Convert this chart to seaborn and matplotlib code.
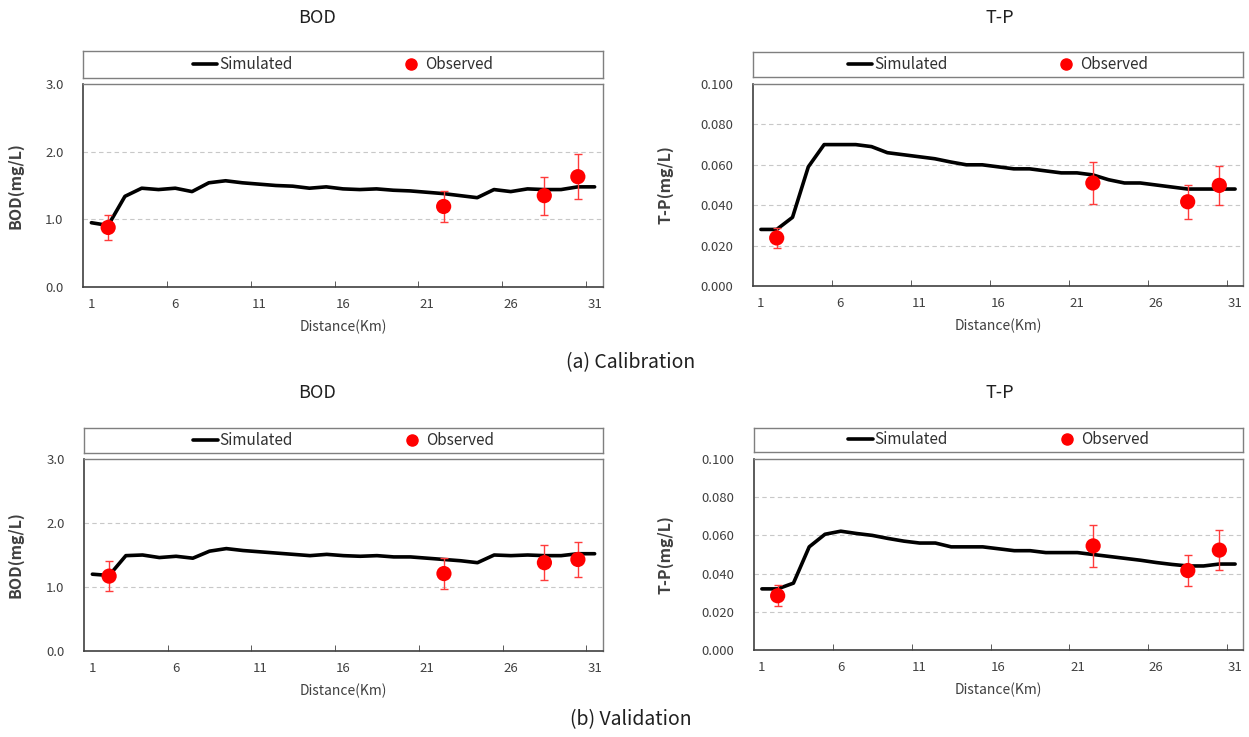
import matplotlib
matplotlib.use("Agg")
import matplotlib.pyplot as plt
import seaborn as sns
import numpy as np
import pandas as pd
from matplotlib.lines import Line2D

# distance along the river (km)
distance = list(range(1, 32))
obs_distance = [2, 22, 28, 30]

# calibration, simulated
bod_cal_sim = [0.95, 0.91, 1.34, 1.46, 1.44, 1.46, 1.41, 1.54, 1.57, 1.54, 1.52,
               1.50, 1.49, 1.46, 1.48, 1.45, 1.44, 1.45, 1.43, 1.42, 1.40, 1.38,
               1.35, 1.32, 1.44, 1.41, 1.45, 1.44, 1.44, 1.48, 1.48]
tp_cal_sim = [0.028, 0.028, 0.034, 0.059, 0.070, 0.070, 0.070, 0.069, 0.066, 0.065, 0.064,
              0.063, 0.0614, 0.060, 0.060, 0.059, 0.058, 0.058, 0.057, 0.056, 0.056, 0.055,
              0.0526, 0.051, 0.051, 0.050, 0.049, 0.048, 0.048, 0.048, 0.048]
# calibration, observed
bod_cal_obs = [0.88, 1.19, 1.35, 1.63]
bod_cal_err = [0.18, 0.23, 0.28, 0.33]
tp_cal_obs = [0.0238, 0.051, 0.0417, 0.0498]
tp_cal_err = [0.005, 0.0102, 0.0083, 0.0097]

# validation, simulated
bod_val_sim = [1.20, 1.18, 1.49, 1.50, 1.46, 1.48, 1.45, 1.56, 1.60, 1.57, 1.55,
               1.53, 1.51, 1.49, 1.51, 1.49, 1.48, 1.49, 1.47, 1.47, 1.45, 1.43,
               1.41, 1.38, 1.50, 1.49, 1.50, 1.49, 1.49, 1.52, 1.52]
tp_val_sim = [0.032, 0.032, 0.035, 0.054, 0.0606, 0.0622, 0.061, 0.060, 0.0584, 0.057, 0.056,
              0.056, 0.054, 0.054, 0.054, 0.053, 0.052, 0.052, 0.051, 0.051, 0.051, 0.050,
              0.049, 0.048, 0.047, 0.0458, 0.0448, 0.044, 0.044, 0.045, 0.045]
# validation, observed
bod_val_obs = [1.17, 1.21, 1.38, 1.43]
bod_val_err = [0.23, 0.24, 0.27, 0.28]
tp_val_obs = [0.0284, 0.0545, 0.0416, 0.0523]
tp_val_err = [0.0055, 0.0108, 0.0082, 0.0103]

sns.set_style("white")
plt.rcParams['font.family'] = ['Noto Sans CJK KR', 'DejaVu Sans']

W, H = 1249, 737
fig = plt.figure(figsize=(W / 100, H / 100), dpi=100)


def rect(x0, y0, x1, y1):
    return [x0 / W, 1 - y1 / H, (x1 - x0) / W, (y1 - y0) / H]


def draw_panel(ax_box, leg_box, sim, obs, err, ymax, ystep, fmt, ylabel, title, title_x, ylabel_x):
    ax = fig.add_axes(rect(*ax_box))
    sim_df = pd.DataFrame({"Distance": distance, "value": sim})
    obs_df = pd.DataFrame({"Distance": obs_distance, "value": obs})
    sns.lineplot(data=sim_df, x="Distance", y="value", color="black", lw=2.6, ax=ax)
    ax.errorbar(obs_distance, obs, yerr=err, fmt="none", ecolor="#ff3b3b",
                elinewidth=1, capsize=3, capthick=1, zorder=3)
    sns.scatterplot(data=obs_df, x="Distance", y="value", color="#ff0000", s=120,
                    edgecolor="none", ax=ax, zorder=4)
    ax.set_xlim(0.5, 31.5)
    ax.set_ylim(0, ymax)
    ax.set_xticks([1, 6, 11, 16, 21, 26, 31])
    ax.set_xticks([5.5, 10.5, 15.5, 20.5, 25.5, 30.5], minor=True)
    ax.tick_params(axis="x", which="major", length=0, pad=8, labelsize=9.5, labelcolor="#404040")
    ax.tick_params(axis="x", which="minor", direction="in", length=4, color="#404040", bottom=True)
    yt = np.arange(0, ymax + ystep / 2, ystep)
    ax.set_yticks(yt)
    ax.set_yticklabels([fmt.format(v) for v in yt])
    ax.tick_params(axis="y", length=0, pad=14, labelsize=9.5, labelcolor="#404040")
    for v in yt[1:-1]:
        ax.axhline(v, color="#c8c8c8", lw=0.8, ls=(0, (4, 3)), zorder=0)
    for s in ["top", "right"]:
        ax.spines[s].set_color("#7f7f7f")
        ax.spines[s].set_linewidth(1)
    for s in ["left", "bottom"]:
        ax.spines[s].set_color("#404040")
        ax.spines[s].set_linewidth(1.2)
    ax.set_xlabel("")
    ax.set_ylabel("")
    cy = (ax_box[1] + ax_box[3]) / 2
    fig.text(ylabel_x / W, 1 - cy / H, ylabel, rotation=90, ha="center", va="center",
             fontsize=11.5, fontweight="bold", color="#404040")
    cx = (ax_box[0] + ax_box[2]) / 2
    fig.text(cx / W, 1 - (ax_box[3] + 40) / H, "Distance(Km)", ha="center", va="center",
             fontsize=10, color="#404040")
    fig.text(title_x / W, 1 - (ax_box[1] - 66) / H, title, ha="center", va="center",
             fontsize=13, color="#202020")

    lax = fig.add_axes(rect(*leg_box))
    lax.set_xticks([])
    lax.set_yticks([])
    for s in lax.spines.values():
        s.set_color("#7f7f7f")
        s.set_linewidth(1)
    handles = [Line2D([], [], color="black", lw=2.6),
               Line2D([], [], color="#ff0000", marker="o", ls="none", markersize=8)]
    lax.legend(handles, ["Simulated", "Observed"], loc="center", ncol=2, frameon=False,
               fontsize=11, handlelength=1.6, handletextpad=0.1, columnspacing=7.0,
               labelcolor="#303030", borderaxespad=0)
    return ax


draw_panel((83, 84, 603, 287), (83, 51, 603, 78), bod_cal_sim, bod_cal_obs, bod_cal_err,
           3.0, 1.0, "{:.1f}", "BOD(mg/L)", "BOD", 317, 15)
draw_panel((753, 84, 1243, 286), (753, 52, 1243, 77), tp_cal_sim, tp_cal_obs, tp_cal_err,
           0.1, 0.02, "{:.3f}", "T-P(mg/L)", "T-P", 1000, 665)
draw_panel((84, 459, 603, 651), (84, 428, 603, 453), bod_val_sim, bod_val_obs, bod_val_err,
           3.0, 1.0, "{:.1f}", "BOD(mg/L)", "BOD", 317, 15)
draw_panel((754, 459, 1243, 650), (754, 428, 1243, 452), tp_val_sim, tp_val_obs, tp_val_err,
           0.1, 0.02, "{:.3f}", "T-P(mg/L)", "T-P", 1000, 665)

fig.text(631 / W, 1 - 363 / H, "(a) Calibration", ha="center", va="center", fontsize=14, color="#202020")
fig.text(631 / W, 1 - 720 / H, "(b) Validation", ha="center", va="center", fontsize=14, color="#202020")

fig.savefig("out.png", dpi=100)
